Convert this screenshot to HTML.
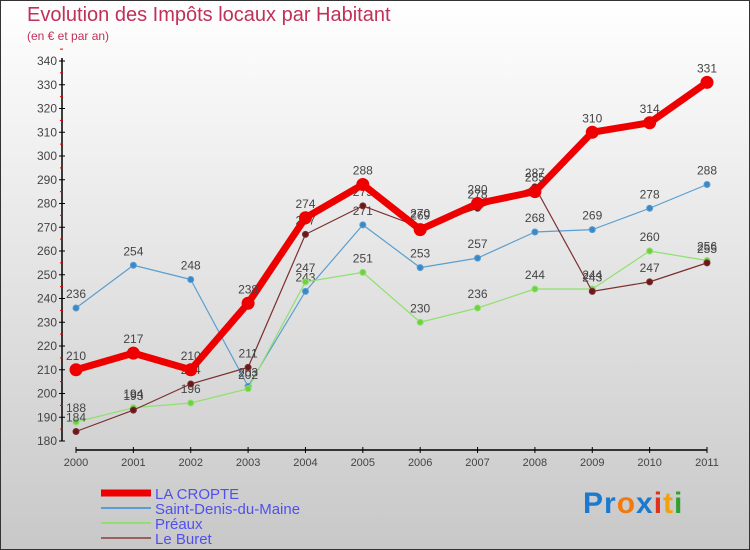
<!DOCTYPE html>
<html><head><meta charset="utf-8"><style>
body{margin:0}
#c{width:748px;height:548px;border:1px solid #333;background:linear-gradient(#fff,#c8c8c8);position:relative;font-family:"Liberation Sans",sans-serif;overflow:hidden}
.t{position:absolute;color:#c0305a}
</style></head><body>
<div id="c">
<div class="t" style="left:26px;top:3px;font-size:20px">Evolution des Impôts locaux par Habitant</div>
<div class="t" style="left:26px;top:28px;font-size:12px">(en € et par an)</div>
<svg id="s" width="748" height="548" style="position:absolute;left:0;top:0"></svg>
<div style="position:absolute;left:582px;top:486px;font-size:30px;font-weight:bold;letter-spacing:1px"><span style="color:#1a7ad0">Pr</span><span style="color:#f07a10">o</span><span style="color:#1a7ad0">x</span><span style="color:#e03020">i</span><span style="color:#f0a010">t</span><span style="color:#30a030">i</span></div>
</div>
<script>
const years=["2000","2001","2002","2003","2004","2005","2006","2007","2008","2009","2010","2011"];
const yTicks=[180,190,200,210,220,230,240,250,260,270,280,290,300,310,320,330,340];
const laCropte=[210,217,210,238,274,288,269,280,285,310,314,331];
const saintDenis=[236,254,248,203,243,271,253,257,268,269,278,288];
const preaux=[188,194,196,202,247,251,230,236,244,244,260,256];
const leBuret=[184,193,204,211,267,279,270,278,287,243,247,255];
const NS="http://www.w3.org/2000/svg",s=document.getElementById('s');
const X=i=>75+i*(706-75)/11, Y=v=>440-(v-180)*(380/160);
function mk(t,a,p){const e=document.createElementNS(NS,t);for(const k in a)e.setAttribute(k,a[k]);(p||s).appendChild(e);return e;}
let e=mk('line',{x1:61,y1:57,x2:61,y2:440,stroke:'#000','stroke-width':1.5});

e=mk('line',{x1:75,y1:449,x2:706,y2:449,stroke:'#000','stroke-width':1.5});

yTicks.forEach(v=>{mk('line',{x1:58,x2:64,y1:Y(v),y2:Y(v),stroke:'#000'});
 mk('line',{x1:59,x2:62,y1:Y(v+5),y2:Y(v+5),stroke:'#d00'});
 e=mk('text',{x:56,y:Y(v)+4,'text-anchor':'end','font-size':12,fill:'#444','font-family':'Liberation Sans'});e.textContent=v;
 });
years.forEach((y,i)=>{mk('line',{x1:X(i),x2:X(i),y1:446,y2:452,stroke:'#000'});
 e=mk('text',{x:X(i),y:465,'text-anchor':'middle','font-size':11,fill:'#444','font-family':'Liberation Sans'});e.textContent=y;
 });
function series(d,col,w,r,dot,name){const g=mk('g',{});
 mk('polyline',{points:d.map((v,i)=>X(i)+','+Y(v)).join(' '),fill:'none',stroke:col,'stroke-width':w,'stroke-linejoin':'round'},g);
 d.forEach((v,i)=>{mk('circle',{cx:X(i),cy:Y(v),r:r,fill:dot,stroke:col,'stroke-width':1},g);
  const t=mk('text',{x:X(i),y:Y(v)-10,'text-anchor':'middle','font-size':12,fill:'#444','font-family':'Liberation Sans'},g);t.textContent=v;});}
series(saintDenis,'#5a9ed0',1.2,3,'#3a88c8','series-saint-denis');
series(preaux,'#90e070',1.2,3,'#70d040','series-preaux');
series(leBuret,'#7a3030',1.2,3,'#6a1818','series-le-buret');
series(laCropte,'#ee0000',7,6,'#ee0000','series-la-cropte');
const leg=[['LA CROPTE','#ee0000',7],['Saint-Denis-du-Maine','#5a9ed0',2],['Préaux','#90e070',2],['Le Buret','#9a6060',2]];
leg.forEach((l,i)=>{const y=492+i*15;const g=mk('g',{});
 mk('line',{x1:100,x2:150,y1:y,y2:y,stroke:l[1],'stroke-width':l[2]},g);
 const t=mk('text',{x:154,y:y+6,'font-size':15,fill:'#5050ee','font-family':'Liberation Sans'},g);t.textContent=l[0];});
</script>
</body></html>
